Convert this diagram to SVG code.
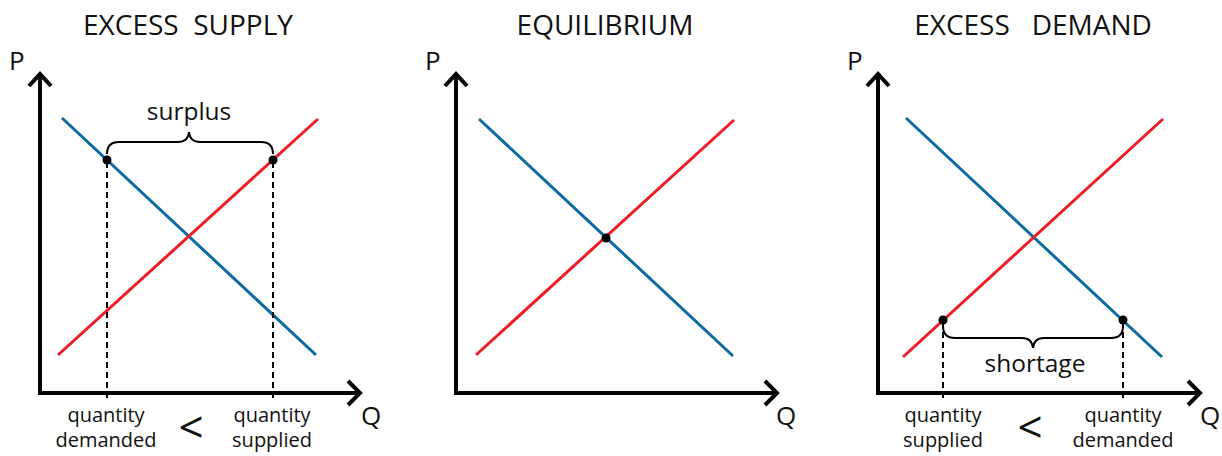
<svg xmlns="http://www.w3.org/2000/svg" width="1222" height="456" viewBox="0 0 1222 456">
<style>
text{font-family:"Open Sans","Liberation Sans",sans-serif;fill:#111;}
.title{font-size:28px;text-anchor:middle;white-space:pre;}
.axl{font-size:26px;}
.lab{font-size:20px;text-anchor:middle;}
.big{font-size:24.5px;text-anchor:middle;}
.lt{font-size:44px;text-anchor:middle;}
.axis{fill:none;stroke:#000;stroke-width:4;}
.head{fill:none;stroke:#000;stroke-width:4;stroke-linejoin:miter;}
.dem{stroke:#0b6aa2;stroke-width:3;}
.sup{stroke:#ee1d25;stroke-width:3;}
.dash{stroke:#000;stroke-width:2;stroke-dasharray:6 4;}
.brace{fill:none;stroke:#000;stroke-width:2;}
.dot{fill:#000;}
</style>
<rect width="1222" height="456" fill="#fff"/>

<g id="panel-excess-supply">
  <text class="title" x="188" y="35" xml:space="preserve">EXCESS  SUPPLY</text>
  <path class="axis" d="M40,74 V393 H359"/>
  <path class="head" d="M29,86 L40,74 L51,86"/>
  <path class="head" d="M348,381 L360,393 L348,405"/>
  <text class="axl" x="9" y="70">P</text>
  <text class="axl" x="361" y="425">Q</text>
  <line class="dem" x1="62" y1="118" x2="316" y2="355"/>
  <line class="sup" x1="58" y1="355" x2="318" y2="119"/>
  <line class="dash" x1="107" y1="162" x2="107" y2="401"/>
  <line class="dash" x1="273" y1="162" x2="273" y2="401"/>
  <path class="brace" d="M107,154 Q107,142 119,142 L178,142 Q188,142 189,132 Q190,142 200,142 L261,142 Q273,142 273,154"/>
  <circle class="dot" cx="107" cy="160" r="4.5"/>
  <circle class="dot" cx="273" cy="160" r="4.5"/>
  <text class="big" x="189" y="120">surplus</text>
  <text class="lab" x="106" y="422">quantity</text>
  <text class="lab" x="106" y="447">demanded</text>
  <text class="lt" x="191" y="443">&lt;</text>
  <text class="lab" x="272" y="422">quantity</text>
  <text class="lab" x="272" y="447">supplied</text>
</g>

<g id="panel-equilibrium">
  <text class="title" x="605" y="35">EQUILIBRIUM</text>
  <path class="axis" d="M456,74 V393 H776"/>
  <path class="head" d="M445,86 L456,74 L467,86"/>
  <path class="head" d="M765,381 L777,393 L765,405"/>
  <text class="axl" x="425" y="70">P</text>
  <text class="axl" x="776" y="425">Q</text>
  <line class="dem" x1="479" y1="119" x2="733" y2="356"/>
  <line class="sup" x1="476" y1="355" x2="734" y2="120"/>
  <circle class="dot" cx="606" cy="238" r="4.5"/>
</g>

<g id="panel-excess-demand">
  <text class="title" x="1033" y="35" xml:space="preserve">EXCESS   DEMAND</text>
  <path class="axis" d="M878,74 V393 H1199"/>
  <path class="head" d="M867,86 L878,74 L889,86"/>
  <path class="head" d="M1188,381 L1200,393 L1188,405"/>
  <text class="axl" x="847" y="70">P</text>
  <text class="axl" x="1200" y="425">Q</text>
  <line class="dem" x1="906" y1="118" x2="1162" y2="357"/>
  <line class="sup" x1="903" y1="357" x2="1163" y2="119"/>
  <line class="dash" x1="943" y1="322" x2="943" y2="401"/>
  <line class="dash" x1="1123" y1="322" x2="1123" y2="401"/>
  <path class="brace" d="M943,326 Q943,338 955,338 L1022,338 Q1032,338 1033,348 Q1034,338 1044,338 L1111,338 Q1123,338 1123,326"/>
  <circle class="dot" cx="943" cy="320" r="4.5"/>
  <circle class="dot" cx="1123" cy="320" r="4.5"/>
  <text class="big" x="1035" y="372">shortage</text>
  <text class="lab" x="943" y="422">quantity</text>
  <text class="lab" x="943" y="447">supplied</text>
  <text class="lt" x="1030" y="443">&lt;</text>
  <text class="lab" x="1123" y="422">quantity</text>
  <text class="lab" x="1123" y="447">demanded</text>
</g>

<g id="connectors"></g>
</svg>
